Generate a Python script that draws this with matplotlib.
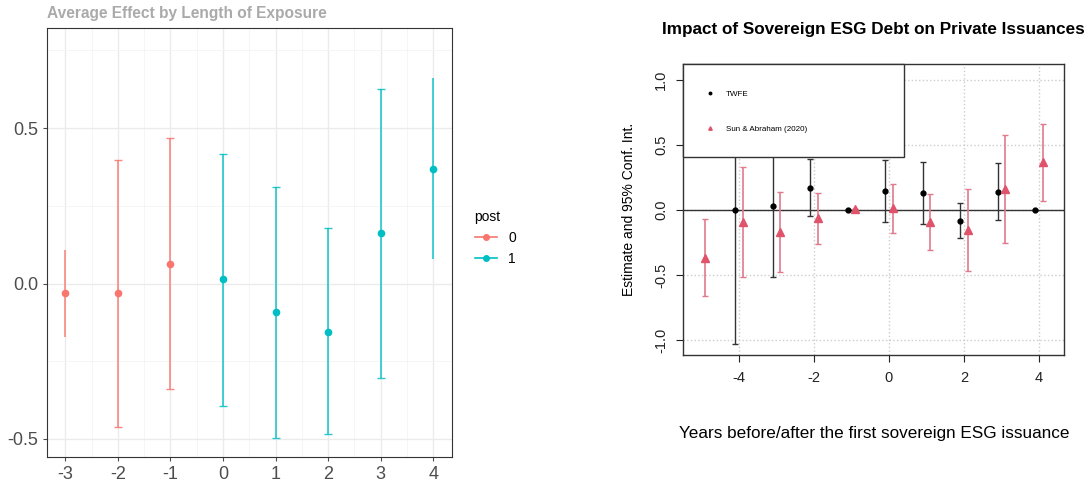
import matplotlib.pyplot as plt
from matplotlib.lines import Line2D
from matplotlib.patches import Rectangle
import numpy as np

plt.rcParams['font.family'] = ['Liberation Sans', 'DejaVu Sans']
plt.rcParams['axes.unicode_minus'] = False

# left panel: average effect by length of exposure
event_left = [-3, -2, -1, 0, 1, 2, 3, 4]
post_left = [0, 0, 0, 1, 1, 1, 1, 1]
est_left = [-0.031, -0.031, 0.064, 0.013, -0.093, -0.155, 0.162, 0.368]
lo_left = [-0.171, -0.460, -0.338, -0.394, -0.496, -0.485, -0.303, 0.078]
hi_left = [0.108, 0.398, 0.468, 0.418, 0.311, 0.178, 0.626, 0.660]
capped_left = [False, True, True, True, True, True, True, False]

# right panel: TWFE vs Sun & Abraham event study
twfe_x = [-4, -3, -2, -1, 0, 1, 2, 3, 4]
twfe_est = [0.0, 0.031, 0.169, 0.0, 0.149, 0.128, -0.082, 0.141, 0.0]
twfe_lo = [-1.033, -0.518, -0.046, 0.0, -0.090, -0.110, -0.218, -0.079, 0.0]
twfe_hi = [1.033, 0.580, 0.390, 0.0, 0.385, 0.367, 0.056, 0.359, 0.0]

sa_x = [-5, -4, -3, -2, -1, 0, 1, 2, 3, 4]
sa_est = [-0.367, -0.090, -0.167, -0.064, 0.005, 0.013, -0.090, -0.154, 0.159, 0.369]
sa_lo = [-0.662, -0.518, -0.474, -0.264, 0.005, -0.177, -0.308, -0.472, -0.254, 0.072]
sa_hi = [-0.072, 0.333, 0.136, 0.131, 0.005, 0.203, 0.121, 0.164, 0.577, 0.659]

post_colors = {0: '#F8766D', 1: '#00BFC4'}

fig = plt.figure(figsize=(10.89, 4.86), dpi=100)

# ---- left (ggplot-like) ----
ax1 = fig.add_axes([0.0432, 0.0597, 0.3719, 0.8827])
for i in range(len(event_left)):
    c = post_colors[post_left[i]]
    yerr = [[est_left[i] - lo_left[i]], [hi_left[i] - est_left[i]]]
    ax1.errorbar(event_left[i], est_left[i], yerr=yerr, fmt='none', ecolor=c,
                 elinewidth=1.2, capsize=3 if capped_left[i] else 0, capthick=1, alpha=0.85, zorder=3)
    ax1.plot(event_left[i], est_left[i], 'o', color=c, markersize=4.5, zorder=4)
ax1.set_xlim(-3.35, 4.36)
ax1.set_ylim(-0.558, 0.822)
ax1.set_xticks(event_left)
ax1.set_yticks([-0.5, 0.0, 0.5])
ax1.set_yticklabels(['-0.5', '0.0', '0.5'])
ax1.set_xticks(np.arange(-2.5, 4.0, 1.0), minor=True)
ax1.set_yticks([-0.25, 0.25, 0.75], minor=True)
ax1.grid(which='major', color='#EBEBEB', linewidth=1.0)
ax1.grid(which='minor', color='#F4F4F4', linewidth=0.6)
ax1.set_axisbelow(True)
ax1.tick_params(which='major', labelsize=13, colors='#4D4D4D', length=3, width=0.8)
ax1.tick_params(which='minor', length=0)
for s in ax1.spines.values():
    s.set_color('#333333')
    s.set_linewidth(0.8)
ax1.set_title('Average Effect by Length of Exposure', loc='left', fontsize=11.2,
              fontweight='bold', color='#AAAAAA', pad=7)
handles = [Line2D([], [], color=post_colors[k], marker='o', markersize=4, linewidth=1.2) for k in (0, 1)]
ax1.legend(handles, ['0', '1'], title='post', loc='center left', bbox_to_anchor=(1.025, 0.51),
           frameon=False, fontsize=10, title_fontsize=10, handlelength=1.6, alignment='left')

# ---- right (base R-like) ----
ax2 = fig.add_axes([0.6275, 0.2689, 0.3499, 0.5988])
tw_x = np.array(twfe_x) - 0.1
sa_xs = np.array(sa_x) + 0.1
tw_err = [np.array(twfe_est) - np.array(twfe_lo), np.array(twfe_hi) - np.array(twfe_est)]
sa_err = [np.array(sa_est) - np.array(sa_lo), np.array(sa_hi) - np.array(sa_est)]
ax2.errorbar(tw_x, twfe_est, yerr=tw_err, fmt='none', ecolor='#333333', elinewidth=1.0,
             capsize=2.5, capthick=1.0, zorder=2)
ax2.plot(tw_x, twfe_est, 'o', color='black', markersize=3.5, zorder=3)
ax2.errorbar(sa_xs, sa_est, yerr=sa_err, fmt='none', ecolor='#E07A8C', elinewidth=1.2,
             capsize=2.5, capthick=1.0, zorder=2)
ax2.plot(sa_xs, sa_est, '^', color='#DF536B', markersize=6, zorder=3)
ax2.axhline(0, color='#333333', linewidth=1.0, zorder=1)
ax2.set_xlim(-5.48, 4.675)
ax2.set_ylim(-1.118, 1.12)
ax2.set_xticks([-4, -2, 0, 2, 4])
ax2.set_yticks([-1.0, -0.5, 0.0, 0.5, 1.0])
ax2.set_yticklabels(['-1.0', '-0.5', '0.0', '0.5', '1.0'], rotation=90, va='center')
ax2.grid(color='#CCCCCC', linestyle=':', linewidth=1.0)
ax2.set_axisbelow(True)
ax2.tick_params(labelsize=10.5, length=5, width=0.8, colors='#222222', pad=6)
for s in ax2.spines.values():
    s.set_color('#333333')
    s.set_linewidth(1.0)
ax2.set_title('Impact of Sovereign ESG Debt on Private Issuances', fontsize=12.3,
              fontweight='bold', pad=22)
ax2.set_xlabel('Years before/after the first sovereign ESG issuance', fontsize=12.3, labelpad=30)
ax2.set_ylabel('Estimate and 95% Conf. Int.', fontsize=10, labelpad=13)

ax2.add_patch(Rectangle((0, 0.683), 0.58, 0.317, transform=ax2.transAxes, facecolor='white',
                        edgecolor='#333333', linewidth=1.0, zorder=4, clip_on=False))
leg_handles = [Line2D([], [], color='black', marker='o', markersize=1.8, linestyle='none'),
               Line2D([], [], color='#DF536B', marker='^', markersize=2.5, linestyle='none')]
ax2.legend(leg_handles, ['TWFE', 'Sun & Abraham (2020)'], loc='upper left',
           bbox_to_anchor=(0.04, 0.935), frameon=False, fontsize=5.8, labelspacing=3.4,
           handlelength=1.0, handletextpad=1.5).set_zorder(5)

fig.savefig('out.png', dpi=100)
